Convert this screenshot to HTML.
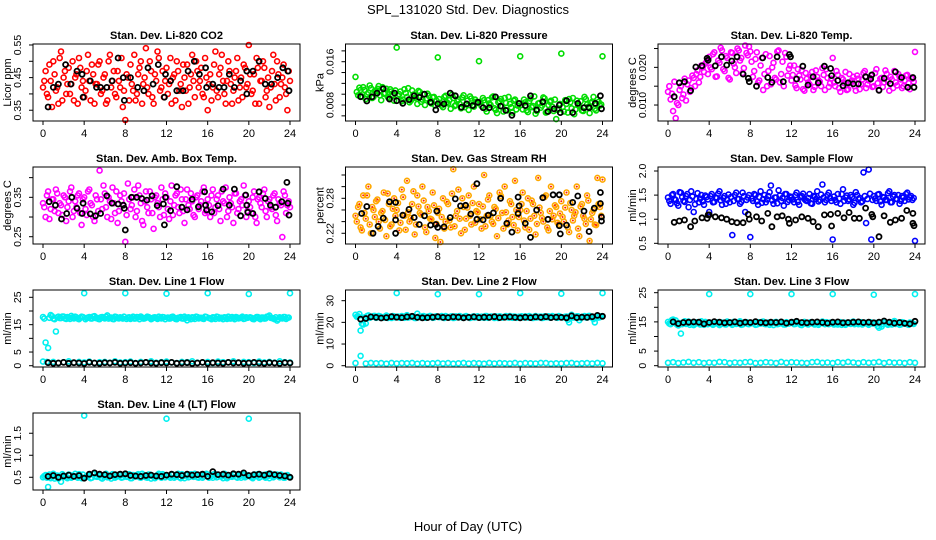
<!DOCTYPE html>
<html><head><meta charset="utf-8"><style>
html,body{margin:0;padding:0;background:#fff}
svg{display:block}
text{font-family:"Liberation Sans",Arial,sans-serif;fill:#000}
</style></head><body>
<svg id="chart" width="936" height="540" viewBox="0 0 936 540">
<text x="468" y="14" text-anchor="middle" font-size="13">SPL_131020  Std. Dev. Diagnostics</text>
<text x="468" y="531" text-anchor="middle" font-size="13">Hour of Day (UTC)</text>
</svg>
<script>
// ---------- shared axis data ----------
const xTicks = [0,4,8,12,16,20,24];
const hoursGrid = Array.from({length:97},(_,i)=>i/4);
const hoursGridB = Array.from({length:96},(_,i)=>0.125+i/4);
const halfGrid = Array.from({length:49},(_,i)=>i/2);
const halfFrom05 = Array.from({length:48},(_,i)=>0.5+i/2);

// ---------- P1 CO2 ----------
const p1Bg = [0.42,0.47,0.39,0.44,0.50,0.41,0.37,0.53,0.45,0.40,0.48,0.43,0.38,0.46,0.51,0.42,
0.39,0.47,0.44,0.49,0.37,0.43,0.50,0.41,0.46,0.38,0.52,0.44,0.40,0.47,0.42,0.36,
0.32,0.45,0.49,0.41,0.38,0.46,0.50,0.43,0.54,0.40,0.47,0.37,0.44,0.51,0.42,0.39,
0.48,0.43,0.37,0.46,0.50,0.41,0.36,0.45,0.49,0.42,0.52,0.39,0.47,0.44,0.40,0.51,
0.35,0.46,0.42,0.53,0.39,0.48,0.44,0.37,0.50,0.43,0.41,0.47,0.38,0.45,0.49,0.42,
0.55,0.40,0.46,0.51,0.37,0.44,0.48,0.41,0.36,0.47,0.43,0.50,0.39,0.45,0.42,0.35,0.44];
const p1BgB = [0.44,0.40,0.49,0.36,0.46,0.42,0.51,0.38,0.47,0.43,0.40,0.50,0.45,0.37,0.48,0.44,
0.41,0.52,0.38,0.46,0.43,0.49,0.40,0.45,0.37,0.50,0.42,0.47,0.39,0.44,0.51,0.41,
0.46,0.38,0.43,0.52,0.40,0.48,0.37,0.45,0.42,0.50,0.39,0.46,0.53,0.41,0.47,0.44,
0.40,0.51,0.45,0.38,0.47,0.43,0.49,0.41,0.37,0.46,0.44,0.50,0.42,0.48,0.39,0.45,
0.43,0.38,0.49,0.41,0.46,0.52,0.40,0.44,0.47,0.37,0.45,0.51,0.42,0.39,0.48,0.43,
0.46,0.41,0.37,0.48,0.44,0.50,0.39,0.45,0.42,0.52,0.38,0.46,0.43,0.49,0.40,0.47];
const p1BlkHours = [0.5,1,1.5,2.2,2.7,3.3,3.8,3.9,4.6,5.2,5.6,6.2,6.7,7.3,7.8,7.9,8.5,9.2,9.8,10.2,10.7,11.2,11.8,11.9,12.4,13.0,13.6,14.1,14.7,15.2,15.8,15.9,16.5,17.1,17.6,18.1,18.6,19.2,19.8,19.8,20.4,21.0,21.6,22.2,22.8,23.3,23.8,23.9];
const p1BlkVals = [0.36,0.42,0.43,0.49,0.43,0.47,0.46,0.39,0.44,0.42,0.42,0.42,0.44,0.51,0.45,0.38,0.45,0.42,0.41,0.48,0.43,0.49,0.39,0.46,0.44,0.41,0.41,0.47,0.50,0.46,0.48,0.42,0.43,0.42,0.42,0.46,0.42,0.44,0.47,0.40,0.47,0.50,0.43,0.43,0.45,0.48,0.47,0.41];
const p1Ticks = [0.35,0.40,0.45,0.50,0.55];
const p1Labels = ["0.35","","0.45","","0.55"];

// ---------- P2 Pressure ----------
const p2Bg = [.0132,.0098,.0108,.0113,.0091,.0103,.0111,.0095,.0106,.0115,.0089,.0101,.0110,.0093,.0105,.0088,
.0186,.0100,.0087,.0109,.0095,.0085,.0107,.0093,.0082,.0104,.0090,.0080,.0101,.0086,.0094,.0079,
.0168,.0084,.0076,.0097,.0083,.0073,.0093,.0080,.0090,.0074,.0098,.0081,.0071,.0092,.0077,.0086,
.0161,.0078,.0089,.0068,.0083,.0094,.0074,.0065,.0087,.0077,.0093,.0070,.0082,.0066,.0090,.0079,
.0170,.0072,.0085,.0067,.0092,.0078,.0064,.0083,.0075,.0094,.0066,.0080,.0088,.0069,.0054,.0073,
.0175,.0068,.0082,.0091,.0074,.0063,.0088,.0078,.0070,.0095,.0081,.0065,.0086,.0073,.0090,.0079,.0170];
const p2BgB = [.0104,.0112,.0096,.0108,.0100,.0116,.0093,.0106,.0110,.0098,.0113,.0102,.0095,.0109,.0099,.0107,
.0097,.0105,.0090,.0102,.0111,.0088,.0099,.0094,.0106,.0086,.0100,.0092,.0097,.0083,.0095,.0088,
.0091,.0079,.0095,.0085,.0089,.0099,.0078,.0087,.0082,.0094,.0076,.0088,.0096,.0080,.0090,.0084,
.0086,.0093,.0073,.0089,.0080,.0096,.0071,.0085,.0091,.0068,.0084,.0095,.0076,.0088,.0072,.0083,
.0080,.0090,.0070,.0087,.0076,.0096,.0069,.0084,.0079,.0092,.0067,.0086,.0077,.0090,.0071,.0082,
.0076,.0089,.0066,.0085,.0093,.0072,.0080,.0087,.0069,.0091,.0077,.0084,.0095,.0070,.0086,.0081];
const p2BlkHours = [0.5,1.1,1.6,2.1,2.7,3.3,3.8,4.0,4.6,5.2,5.7,6.2,6.7,7.3,7.8,8.0,8.6,9.2,9.7,10.3,10.8,11.4,11.9,12.4,13.0,13.6,14.1,14.6,15.2,15.9,16.5,17.0,17.6,18.2,18.7,19.3,19.8,19.9,20.5,21.1,21.6,22.2,22.7,23.3,23.8,23.9];
const p2BlkVals = [.00954,.00875,.0095,.0102,.0110,.0091,.0102,.0088,.0083,.0090,.0097,.0094,.0100,.0085,.0071,.0082,.0082,.0102,.0097,.0076,.0082,.0079,.0085,.0075,.0075,.0095,.0078,.0070,.0061,.0083,.0079,.0097,.0071,.0086,.0068,.0073,.0080,.0066,.0088,.0066,.0083,.0075,.0075,.0083,.0097,.0073];
const p2Ticks = [0.006,0.008,0.010,0.012,0.014,0.016,0.018];
const p2Labels = ["","0.008","","","","0.016",""];

// ---------- P3 Li-820 Temp ----------
const p3Bg = [.0135,.0115,.0084,.0065,.0100,.0150,.0128,.0112,.0165,.0145,.0172,.0182,.0160,.0205,.0188,.0215,
.0228,.0195,.0240,.0176,.0212,.0245,.0190,.0225,.0168,.0238,.0200,.0250,.0218,.0185,.0258,.0232,
.0242,.0175,.0222,.0160,.0205,.0140,.0235,.0190,.0155,.0212,.0168,.0245,.0182,.0150,.0228,.0196,
.0165,.0205,.0145,.0178,.0192,.0138,.0170,.0155,.0188,.0148,.0175,.0162,.0198,.0140,.0172,.0158,
.0225,.0150,.0180,.0135,.0168,.0188,.0142,.0160,.0175,.0138,.0170,.0155,.0185,.0145,.0165,.0178,
.0150,.0195,.0140,.0172,.0160,.0183,.0138,.0168,.0190,.0152,.0175,.0145,.0165,.0180,.0142,.0170,.0241];
const p3BgB = [.0150,.0130,.0162,.0105,.0140,.0118,.0170,.0155,.0135,.0178,.0150,.0192,.0175,.0200,.0210,.0182,
.0200,.0235,.0175,.0218,.0252,.0195,.0230,.0172,.0240,.0210,.0185,.0245,.0225,.0198,.0238,.0255,
.0215,.0190,.0240,.0165,.0225,.0182,.0150,.0230,.0200,.0172,.0242,.0160,.0215,.0238,.0178,.0205,
.0180,.0152,.0195,.0168,.0142,.0185,.0160,.0175,.0140,.0192,.0165,.0150,.0180,.0195,.0148,.0170,
.0160,.0190,.0145,.0172,.0158,.0140,.0182,.0165,.0150,.0178,.0142,.0168,.0190,.0155,.0172,.0148,
.0185,.0158,.0170,.0148,.0192,.0162,.0175,.0145,.0160,.0182,.0168,.0150,.0178,.0158,.0172,.0162];
const p3BlkHours = [0.6,1.1,1.6,2.2,2.7,3.3,3.8,3.9,4.6,5.2,5.7,6.2,6.7,7.3,7.8,7.9,8.6,9.2,9.7,10.1,10.6,11.2,11.8,11.9,12.5,13.1,13.6,14.1,14.6,15.2,15.8,15.9,16.5,17.0,17.5,18.0,18.5,19.2,19.7,19.8,20.5,21.0,21.6,22.1,22.7,23.3,23.8,23.9];
const p3BlkVals = [.0122,.0159,.0162,.0138,.0201,.0204,.0224,.0219,.0204,.0228,.0206,.0217,.0228,.0182,.0171,.0162,.0150,.0225,.0173,.0160,.0228,.0162,.0234,.0228,.0169,.0203,.0153,.0175,.0159,.0203,.0197,.0178,.0165,.0151,.0159,.0156,.0156,.0175,.0169,.0180,.0139,.0171,.0157,.0188,.0173,.0147,.0173,.0147];
const p3Ticks = [0.010,0.015,0.020,0.025];
const p3Labels = ["0.010","","0.020",""];

// ---------- P4 Amb Box Temp ----------
const p4Bg = [.335,.300,.365,.320,.345,.370,.310,.330,.355,.290,.340,.375,.315,.325,.360,.280,
.350,.305,.370,.330,.290,.345,.418,.320,.360,.300,.340,.375,.310,.285,.355,.330,
.237,.385,.320,.350,.300,.380,.335,.280,.365,.310,.345,.270,.355,.325,.375,.305,
.350,.295,.380,.330,.360,.310,.345,.285,.370,.320,.340,.300,.355,.330,.365,.310,
.345,.300,.370,.325,.355,.290,.340,.375,.315,.335,.285,.360,.320,.345,.380,.300,
.340,.310,.365,.285,.350,.325,.370,.300,.345,.320,.360,.290,.335,.249,.355,.330,.325];
const p4BgB = [.325,.355,.295,.345,.315,.360,.335,.305,.350,.325,.365,.300,.340,.355,.310,.345,
.320,.365,.335,.300,.355,.315,.345,.380,.325,.350,.295,.335,.365,.315,.340,.360,
.305,.345,.330,.370,.315,.355,.290,.340,.325,.365,.310,.350,.335,.300,.345,.360,
.320,.340,.305,.355,.325,.370,.315,.345,.330,.360,.305,.350,.320,.340,.375,.315,
.330,.355,.310,.345,.320,.365,.335,.300,.350,.325,.360,.310,.340,.330,.355,.315,
.325,.350,.300,.345,.335,.360,.315,.340,.325,.355,.305,.345,.330,.365,.310,.340];
const p4BlkHours = [0.6,1.2,1.8,2.3,2.8,3.3,3.8,3.9,4.6,5.1,5.6,6.2,6.7,7.3,7.8,7.9,8.0,8.6,9.1,9.6,10.1,10.6,11.1,11.7,11.8,11.9,12.4,13.0,13.5,14.0,14.5,15.1,15.7,15.8,15.9,16.4,17.0,17.5,18.1,18.6,19.2,19.7,19.8,19.9,20.4,21.0,21.6,22.1,22.6,23.2,23.7,23.8,23.9];
const p4BlkVals = [.339,.330,.295,.309,.350,.322,.309,.335,.308,.303,.309,.354,.335,.333,.330,.322,.267,.350,.350,.347,.343,.354,.329,.333,.280,.350,.316,.377,.325,.318,.345,.326,.364,.330,.318,.313,.329,.371,.330,.371,.303,.356,.330,.312,.309,.364,.347,.330,.325,.339,.388,.335,.305];
const p4Ticks = [0.25,0.30,0.35,0.40];
const p4Labels = ["0.25","","0.35",""];

// ---------- P5 Gas Stream RH ----------
const p5Bg = [.250,.265,.230,.285,.245,.300,.220,.260,.275,.240,.255,.290,.215,.270,.235,.280,
.260,.225,.295,.250,.310,.240,.270,.218,.285,.255,.300,.230,.265,.245,.290,.212,
.255,.205,.280,.240,.270,.230,.330,.250,.295,.220,.265,.245,.285,.235,.300,.258,
.270,.228,.320,.250,.285,.240,.265,.215,.290,.255,.300,.235,.275,.248,.310,.225,
.260,.290,.230,.280,.245,.270,.218,.315,.255,.240,.285,.225,.300,.250,.265,.235,
.275,.240,.290,.222,.260,.250,.300,.215,.270,.245,.285,.207,.255,.235,.315,.265,.312];
const p5BgB = [.240,.270,.225,.255,.285,.235,.265,.248,.278,.228,.258,.243,.288,.232,.262,.250,
.272,.238,.282,.226,.256,.246,.292,.235,.266,.252,.276,.222,.258,.244,.268,.236,
.262,.248,.228,.274,.242,.288,.232,.258,.245,.280,.226,.264,.250,.272,.238,.256,
.244,.266,.232,.278,.250,.236,.262,.246,.284,.228,.256,.242,.270,.234,.260,.248,
.270,.242,.258,.226,.276,.250,.236,.264,.246,.282,.230,.258,.244,.268,.238,.254,
.248,.264,.230,.272,.242,.256,.228,.266,.250,.236,.276,.244,.260,.234,.270,.250];
const p5BlkHours = [0.6,1.1,1.7,2.2,2.7,3.3,3.9,3.9,3.9,4.6,5.2,5.7,6.2,6.7,7.3,7.8,7.9,8.0,8.6,9.2,9.7,10.2,10.7,11.2,11.8,11.8,12.4,12.9,13.4,14.1,14.7,15.2,15.8,15.8,15.9,16.5,17.0,17.6,18.2,18.7,19.2,19.8,19.8,19.9,20.5,21.1,21.6,22.2,22.7,23.2,23.8,23.8,23.9,23.9];
const p5BlkVals = [.254,.266,.220,.232,.246,.274,.273,.243,.220,.251,.261,.247,.235,.250,.234,.235,.258,.230,.231,.247,.279,.267,.268,.253,.305,.244,.243,.251,.255,.280,.237,.222,.282,.254,.267,.237,.213,.260,.281,.244,.286,.286,.233,.219,.234,.273,.284,.258,.223,.263,.290,.271,.248,.241];
const p5Ticks = [0.22,0.24,0.26,0.28,0.30,0.32];
const p5Labels = ["0.22","","","0.28","",""];

// ---------- P6 Sample Flow ----------
const p6Bg = [1.45,1.32,1.52,1.40,1.28,1.55,1.38,1.48,1.25,1.58,1.15,1.42,1.35,1.50,1.30,1.46,
1.15,1.52,1.36,1.44,1.58,1.30,1.48,1.40,1.35,0.67,1.50,1.42,1.32,1.55,1.15,1.45,
0.63,1.38,1.50,1.30,1.58,1.42,1.35,1.48,1.70,1.32,1.45,1.60,1.38,1.28,1.52,1.40,
1.45,1.35,1.55,1.30,1.48,1.42,1.38,1.52,1.32,1.46,1.58,1.40,1.72,1.35,1.50,1.44,
0.58,1.40,1.52,1.32,1.62,1.45,1.38,1.50,1.30,1.56,1.42,1.35,1.97,0.92,2.03,0.58,
1.48,1.38,1.52,1.30,1.45,1.40,1.58,1.35,1.50,1.42,1.32,1.48,1.38,1.55,1.45,1.40,0.55];
const p6BgB = [1.38,1.50,1.42,1.33,1.56,1.46,1.36,1.52,1.40,1.47,1.31,1.54,1.43,1.37,1.49,1.41,
1.48,1.35,1.45,1.53,1.39,1.44,1.32,1.51,1.46,1.38,1.55,1.42,1.36,1.48,1.40,1.50,
1.43,1.52,1.37,1.46,1.34,1.50,1.41,1.56,1.39,1.45,1.33,1.49,1.44,1.52,1.36,1.47,
1.41,1.50,1.36,1.46,1.53,1.39,1.44,1.33,1.48,1.42,1.37,1.51,1.45,1.40,1.55,1.38,
1.47,1.35,1.43,1.52,1.38,1.49,1.41,1.46,1.34,1.50,1.44,1.37,1.48,1.42,1.53,1.40,
1.43,1.51,1.37,1.46,1.40,1.54,1.35,1.47,1.42,1.50,1.38,1.45,1.52,1.41,1.48,1.44];
const p6BlkHours = [0.6,1.1,1.6,2.2,2.6,3.3,3.8,3.9,4.0,4.6,5.2,5.7,6.2,6.7,7.3,7.8,7.9,8.6,9.1,9.7,10.1,10.6,11.1,11.7,11.8,12.4,13.0,13.6,14.1,14.6,15.2,15.8,15.9,16.5,17.1,17.6,18.1,18.6,19.2,19.8,19.9,20.5,21.0,21.6,22.1,22.7,23.2,23.8,23.8,23.9];
const p6BlkVals = [.936,.963,.983,.845,.963,1.03,1.02,1.09,1.09,1.05,1.03,1.00,.948,.927,.927,1.10,1.00,1.05,.963,1.12,.845,1.05,1.07,1.00,.915,.983,1.05,1.02,.948,.845,1.09,1.10,.859,1.12,1.03,1.14,1.02,1.02,1.23,1.10,1.05,.637,1.07,.936,.983,1.02,1.18,1.12,.915,.865];
const p6Ticks = [0.5,1.0,1.5,2.0];
const p6Labels = ["0.5","1.0","1.5","2.0"];

// ---------- P7 Line 1 Flow ----------
const p7High = [17.8,8.5,6.5,18.5,17.2,12.5,17.9,17.4,18.0,17.1,17.6,18.2,17.3,17.7,17.0,17.9,
26.5,17.4,17.8,17.2,18.1,17.5,17.0,17.8,17.3,18.4,17.6,17.1,17.9,17.4,17.7,17.2,
26.5,17.6,17.1,17.9,17.3,17.7,18.0,17.2,17.5,17.8,17.0,17.6,17.4,17.9,17.3,17.7,
26.3,17.2,17.8,17.5,17.0,17.6,17.3,17.9,16.6,17.4,17.7,17.1,17.8,17.5,17.2,17.9,
26.5,17.3,17.7,17.1,17.8,17.5,17.0,17.6,17.9,17.2,17.4,17.8,17.3,17.6,17.1,17.7,
26.2,17.5,17.0,17.8,17.3,17.6,17.2,17.9,18.3,17.4,17.0,16.5,17.7,17.3,17.8,17.5,26.5];
const p7HighB = [17.2,1.4,17.5,18.1,17.0,17.7,17.4,18.0,17.3,17.8,17.1,17.6,17.9,17.2,17.5,17.8,
17.0,17.6,17.3,18.0,17.4,17.1,17.7,17.5,17.9,17.2,17.6,17.0,17.8,17.3,17.5,17.9,
17.1,17.7,17.4,17.2,17.8,17.0,17.6,17.3,17.9,17.5,17.2,17.7,17.1,17.4,17.8,17.0,
17.6,17.3,17.9,17.1,17.5,17.8,17.2,17.4,17.7,17.0,17.6,17.9,17.3,17.5,17.1,17.8,
17.4,17.0,17.6,17.9,17.2,17.5,17.7,17.1,17.3,17.8,17.0,17.6,17.4,17.9,17.2,17.5,
17.7,17.1,17.4,17.8,17.0,17.6,17.3,17.9,17.5,17.2,17.7,17.0,17.4,17.8,17.1,17.6];
const p7Low = [1.5,1.2,1.4,1.0,1.3,1.6,1.1,1.4,1.2,1.5,1.0,1.3,1.4,1.1,1.6,1.2,1.3,1.5,1.0,1.4,1.2,1.6,1.1,1.3,1.5,1.2,1.0,1.4,1.3,1.6,1.1,1.2,1.4,1.0,1.5,1.3,1.2,1.6,1.1,1.4,1.3,1.0,1.5,1.2,1.4,1.1,1.6,1.3,1.2];
const p7Blk = [1.1,0.9,1.0,1.2,0.9,1.1,1.0,0.8,1.2,1.0,0.9,1.1,1.0,1.2,0.9,1.0,1.1,0.9,1.0,1.2,1.0,0.9,1.1,1.0,1.2,0.9,1.0,1.1,0.8,1.0,1.2,0.9,1.1,1.0,0.9,1.2,1.0,1.1,0.9,1.0,1.2,1.0,0.9,1.1,1.0,0.8,1.1,1.0];
const p7Ticks = [0,5,10,15,20,25];
const p7Labels = ["0","5","","15","","25"];

// ---------- P8 Line 2 Flow ----------
const p8High = [23.5,22.8,16.2,19.0,19.5,23.2,22.4,22.9,22.1,23.0,22.5,22.2,23.1,22.6,22.0,22.8,
33.5,22.3,22.9,22.1,23.3,22.5,22.7,22.0,24.0,22.4,22.8,22.2,22.6,23.0,22.1,22.7,
33.0,22.5,22.2,22.9,22.4,22.7,22.0,22.8,22.3,22.6,22.1,22.9,22.5,22.2,22.8,22.4,
33.0,22.6,22.1,22.9,22.3,22.7,22.0,22.5,22.8,22.2,22.6,22.4,22.9,22.1,22.7,22.3,
33.5,22.5,22.8,22.2,22.6,22.0,22.9,22.4,22.7,22.1,22.5,22.8,22.3,22.6,22.2,22.9,
33.2,22.4,22.7,20.0,23.5,22.3,22.8,21.0,22.5,22.9,22.2,23.0,22.6,20.0,22.7,22.4,33.5];
const p8HighB = [22.6,23.8,19.4,22.3,22.9,22.1,22.6,23.0,22.4,22.8,22.2,22.7,22.0,22.5,22.9,22.3,
22.7,22.1,22.6,22.9,22.2,22.5,22.8,22.0,22.6,22.3,22.9,22.1,22.5,22.7,22.2,22.8,
22.4,22.9,22.0,22.6,22.3,22.8,22.1,22.5,22.9,22.2,22.7,22.4,22.0,22.6,22.3,22.8,
22.2,22.5,22.9,22.1,22.7,22.4,22.8,22.0,22.6,22.3,22.9,22.2,22.5,22.7,22.1,22.6,
22.8,22.2,22.5,22.9,22.1,22.7,22.3,22.6,22.0,22.8,22.4,22.2,22.9,22.5,22.1,22.7,
22.3,22.6,21.2,22.9,22.2,22.5,22.8,22.1,22.6,22.3,22.9,22.4,21.5,22.7,22.2,22.8];
const p8Low = [1.2,4.5,1.0,1.3,1.1,1.2,0.9,1.3,1.0,1.2,1.1,1.3,0.9,1.2,1.0,1.1,1.3,1.0,1.2,0.9,1.1,1.3,1.0,1.2,1.1,0.9,1.3,1.0,1.2,1.1,1.0,1.3,0.9,1.2,1.1,1.0,1.3,1.2,0.9,1.1,1.0,1.2,1.3,0.9,1.1,1.2,1.0,1.3,1.1];
const p8Blk = [21.5,21.8,22.5,22.3,22.0,22.2,22.6,22.4,22.2,22.5,22.8,22.3,22.1,22.2,22.4,22.6,22.3,22.2,22.5,22.4,22.1,22.3,22.5,22.2,22.4,22.3,22.6,22.2,22.4,22.5,22.3,22.1,22.4,22.2,22.5,22.3,22.6,22.2,22.4,22.3,22.1,23.0,22.2,22.4,22.3,22.6,23.2,22.8];
const p8Ticks = [0,10,20,30];
const p8Labels = ["0","10","20","30"];

// ---------- P9 Line 3 Flow ----------
const p9High = [15.0,14.2,15.8,15.5,13.8,11.0,14.9,14.3,15.1,14.6,13.9,14.8,14.4,15.2,14.0,14.7,
24.5,14.3,15.0,14.5,13.9,14.8,14.2,15.1,14.6,14.0,14.9,14.4,15.2,14.1,14.7,14.3,
24.5,14.6,14.0,14.9,14.4,15.1,14.2,14.8,14.5,13.9,15.0,14.3,14.7,14.1,14.9,14.4,
24.5,14.2,14.8,14.5,13.9,15.0,14.3,14.7,14.6,14.1,14.9,14.4,15.1,14.2,14.6,14.8,
24.5,14.4,14.1,14.9,14.5,14.0,14.8,14.3,15.1,14.6,14.2,14.9,14.4,14.7,14.0,14.8,
24.3,14.5,13.0,13.4,14.9,14.3,14.8,14.1,15.3,14.6,14.0,14.9,14.4,14.2,14.8,14.5,24.5];
const p9HighB = [14.4,15.6,14.8,14.1,14.6,14.2,15.2,14.5,14.0,14.8,14.3,14.9,14.1,14.6,15.0,14.2,
14.7,14.0,14.5,14.9,14.2,14.6,14.1,14.8,14.4,15.0,14.3,14.7,14.0,14.6,14.9,14.2,
14.5,14.8,14.1,14.4,15.0,14.3,14.7,14.0,14.6,14.9,14.2,14.5,14.8,14.1,14.4,14.7,
14.9,14.3,14.6,14.0,14.8,14.4,14.1,14.9,14.3,14.7,14.0,14.6,14.4,14.9,14.2,14.5,
14.1,14.7,14.4,14.0,14.8,14.3,14.6,14.9,14.2,14.5,14.8,14.1,14.6,14.3,14.9,14.4,
14.7,13.6,14.6,14.2,14.8,14.0,14.5,14.9,14.3,14.6,14.1,14.8,14.4,14.0,14.7,14.3];
const p9Low = [1.0,1.2,0.9,1.1,1.3,1.0,1.2,0.9,1.1,1.0,1.3,1.2,0.9,1.1,1.0,1.2,1.3,0.9,1.0,1.2,1.1,0.9,1.3,1.0,1.2,1.1,1.0,0.9,1.2,1.3,1.0,1.1,0.9,1.2,1.0,1.3,1.1,0.9,1.2,1.0,1.1,1.3,0.9,1.2,1.0,1.1,0.9,1.2,1.0];
const p9Blk = [15.0,14.4,14.8,14.9,15.0,14.9,14.3,14.8,15.1,14.9,14.7,14.8,15.0,14.6,14.9,14.8,15.1,14.8,14.7,14.9,14.8,15.0,14.6,14.9,15.2,14.8,14.7,14.9,15.0,14.8,14.6,14.9,15.0,14.7,14.8,14.9,15.0,14.8,14.9,14.7,14.9,15.3,14.9,14.6,14.8,14.5,14.3,15.2];
const p9Ticks = [0,5,10,15,20,25];
const p9Labels = ["0","5","","15","","25"];

// ---------- P10 Line 4 (LT) Flow ----------
const p10High = [0.50,0.55,0.28,0.48,0.58,0.52,0.47,0.40,0.54,0.50,0.56,0.49,0.53,0.51,0.57,0.48,
1.90,0.52,0.55,0.49,0.58,0.51,0.54,0.47,0.56,0.50,0.53,0.57,0.49,0.52,0.55,0.50,
0.58,0.51,0.48,0.55,0.52,0.57,0.49,0.54,0.50,0.56,0.47,0.53,0.51,0.58,0.49,0.54,
1.83,0.52,0.56,0.49,0.54,0.50,0.57,0.48,0.55,0.51,0.53,0.58,0.50,0.54,0.49,0.56,
0.52,0.55,0.49,0.57,0.51,0.54,0.48,0.56,0.50,0.53,0.58,0.51,0.55,0.49,0.54,0.52,
1.83,0.50,0.56,0.53,0.49,0.55,0.51,0.57,0.48,0.54,0.52,0.56,0.50,0.53,0.49,0.55,0.50];
const p10HighB = [0.53,0.49,0.56,0.51,0.47,0.54,0.50,0.57,0.52,0.48,0.55,0.51,0.58,0.49,0.53,0.56,
0.50,0.54,0.48,0.57,0.52,0.55,0.49,0.53,0.58,0.51,0.47,0.55,0.52,0.56,0.49,0.54,
0.51,0.57,0.48,0.53,0.55,0.50,0.58,0.52,0.49,0.56,0.53,0.48,0.55,0.51,0.57,0.50,
0.54,0.49,0.56,0.52,0.58,0.48,0.53,0.55,0.50,0.57,0.51,0.54,0.49,0.56,0.52,0.58,
0.49,0.53,0.57,0.50,0.55,0.52,0.58,0.48,0.54,0.51,0.56,0.49,0.53,0.57,0.50,0.55,
0.52,0.48,0.54,0.57,0.51,0.55,0.49,0.53,0.58,0.50,0.54,0.52,0.56,0.49,0.53,0.51];
const p10Blk = [.52,.54,.50,.53,.55,.52,.54,.48,.57,.60,.57,.56,.53,.56,.57,.58,.54,.53,.52,.54,.55,.53,.52,.55,.57,.56,.54,.57,.55,.56,.57,.52,.63,.56,.57,.55,.58,.57,.60,.54,.56,.57,.55,.58,.56,.54,.53,.50];
const p10Ticks = [0.5,1.0,1.5];
const p10Labels = ["0.5","1.0","1.5"];

// ---------- rendering ----------
const NS = "http://www.w3.org/2000/svg";
const svg = document.getElementById('chart');
function mk(tag, attrs, parent){
  const e = document.createElementNS(NS, tag);
  for (const k in attrs) e.setAttribute(k, attrs[k]);
  (parent||svg).appendChild(e);
  return e;
}
const BLUE="#0000ff", RED="#ff0000", GREEN="#00dd00", MAG="#ff00ff", CYAN="#00f0f0", ORG="#ffa800";

const panels = [
 {key:'co2', title:'Stan. Dev. Li-820 CO2', ylab:'Licor ppm', c:0,r:0, ymin:0.317,ymax:0.553, ticks:p1Ticks, labels:p1Labels,
  series:[{x:hoursGrid,y:p1Bg,col:RED},{x:hoursGridB,y:p1BgB,col:RED},{x:p1BlkHours,y:p1BlkVals,col:'#000'}]},
 {key:'pressure', title:'Stan. Dev. Li-820 Pressure', ylab:'kPa', c:1,r:0, ymin:0.00505,ymax:0.01927, ticks:p2Ticks, labels:p2Labels,
  series:[{x:hoursGrid,y:p2Bg,col:GREEN},{x:hoursGridB,y:p2BgB,col:GREEN},{x:p2BlkHours,y:p2BlkVals,col:'#000'}]},
 {key:'li820-temp', title:'Stan. Dev. Li-820 Temp.', ylab:'degrees C', c:2,r:0, ymin:0.00576,ymax:0.0262, ticks:p3Ticks, labels:p3Labels,
  series:[{x:hoursGrid,y:p3Bg,col:MAG},{x:hoursGridB,y:p3BgB,col:MAG},{x:p3BlkHours,y:p3BlkVals,col:'#000'}]},
 {key:'amb-box-temp', title:'Stan. Dev. Amb. Box Temp.', ylab:'degrees C', c:0,r:1, ymin:0.2315,ymax:0.427, ticks:p4Ticks, labels:p4Labels,
  series:[{x:hoursGrid,y:p4Bg,col:MAG},{x:hoursGridB,y:p4BgB,col:MAG},{x:p4BlkHours,y:p4BlkVals,col:'#000'}]},
 {key:'gas-rh', title:'Stan. Dev. Gas Stream RH', ylab:'percent', c:1,r:1, ymin:0.2016,ymax:0.3337, ticks:p5Ticks, labels:p5Labels,
  series:[{x:hoursGrid,y:p5Bg,col:ORG,fill:'#ff2000'},{x:hoursGridB,y:p5BgB,col:ORG,fill:'#ff2000'},{x:p5BlkHours,y:p5BlkVals,col:'#000'}]},
 {key:'sample-flow', title:'Stan. Dev. Sample Flow', ylab:'ml/min', c:2,r:1, ymin:0.486,ymax:2.083, ticks:p6Ticks, labels:p6Labels,
  series:[{x:hoursGrid,y:p6Bg,col:BLUE},{x:hoursGridB,y:p6BgB,col:BLUE},{x:p6BlkHours,y:p6BlkVals,col:'#000'}]},
 {key:'line1-flow', title:'Stan. Dev. Line 1 Flow', ylab:'ml/min', c:0,r:2, ymin:-0.47,ymax:27.67, ticks:p7Ticks, labels:p7Labels,
  series:[{x:hoursGrid,y:p7High,col:CYAN},{x:hoursGridB,y:p7HighB,col:CYAN},{x:halfGrid,y:p7Low,col:CYAN},{x:halfFrom05,y:p7Blk,col:'#000'}]},
 {key:'line2-flow', title:'Stan. Dev. Line 2 Flow', ylab:'ml/min', c:1,r:2, ymin:-0.6,ymax:34.93, ticks:p8Ticks, labels:p8Labels,
  series:[{x:hoursGrid,y:p8High,col:CYAN},{x:hoursGridB,y:p8HighB,col:CYAN},{x:halfGrid,y:p8Low,col:CYAN},{x:halfFrom05,y:p8Blk,col:'#000'}]},
 {key:'line3-flow', title:'Stan. Dev. Line 3 Flow', ylab:'ml/min', c:2,r:2, ymin:-0.45,ymax:25.92, ticks:p9Ticks, labels:p9Labels,
  series:[{x:hoursGrid,y:p9High,col:CYAN},{x:hoursGridB,y:p9HighB,col:CYAN},{x:halfGrid,y:p9Low,col:CYAN},{x:halfFrom05,y:p9Blk,col:'#000'}]},
 {key:'line4-flow', title:'Stan. Dev. Line 4 (LT) Flow', ylab:'ml/min', c:0,r:3, ymin:0.211,ymax:1.96, ticks:p10Ticks, labels:p10Labels,
  series:[{x:hoursGrid,y:p10High,col:CYAN},{x:hoursGridB,y:p10HighB,col:CYAN},{x:halfFrom05,y:p10Blk,col:'#000'}]}
];

panels.forEach(p=>{
  const x0 = 43 + 312.5*p.c;
  const top = 44 + 123*p.r, bot = top + 77;
  const left = x0 - 10, right = x0 + 257;
  const xs = h => x0 + h*247/24;
  const ys = v => bot - (v - p.ymin)/(p.ymax - p.ymin)*77;
  const g = mk('g', {});
  
  
  const t = mk('text', {x:(left+right)/2, y:top-5, 'text-anchor':'middle', 'font-size':'11', 'font-weight':'bold'}, g);
  t.textContent = p.title;
  
  
  const pts = mk('g', {}, g);
  
  
  p.series.forEach(s=>{
    for (let i=0;i<s.y.length;i++){
      const cx = xs(s.x[i]), cy = ys(s.y[i]);
      const c = mk('circle', {cx:cx.toFixed(1), cy:cy.toFixed(1), r:2.5, fill:'none', stroke:s.col, 'stroke-width': s.col==='#000'?1.8:1.6}, pts);
      
      
      if (s.fill){ mk('circle', {cx:cx.toFixed(1), cy:cy.toFixed(1), r:1, fill:s.fill}, pts); }
    }
  });
  const box = mk('rect', {x:left, y:top, width:right-left, height:77, fill:'none', stroke:'#000', 'stroke-width':1}, g);
  
  
  xTicks.forEach(h=>{
    const X = xs(h);
    mk('line', {x1:X, x2:X, y1:bot, y2:bot+4, stroke:'#000'}, g);
    const tl = mk('text', {x:X, y:bot+16, 'text-anchor':'middle', 'font-size':'11'}, g);
    tl.textContent = h;
    
    
  });
  p.ticks.forEach((v,i)=>{
    const Y = ys(v);
    mk('line', {x1:left-4, x2:left, y1:Y, y2:Y, stroke:'#000'}, g);
    if (p.labels[i]) {
      const tl = mk('text', {x:0, y:0, 'text-anchor':'middle', 'font-size':'10.5', transform:`translate(${x0-22},${Y}) rotate(-90)`}, g);
      tl.textContent = p.labels[i];
      
      
    }
  });
  const yl = mk('text', {x:0, y:0, 'text-anchor':'middle', 'font-size':'11', transform:`translate(${x0-32},${(top+bot)/2}) rotate(-90)`}, g);
  yl.textContent = p.ylab;
  
  
});
</script>
</body></html>
